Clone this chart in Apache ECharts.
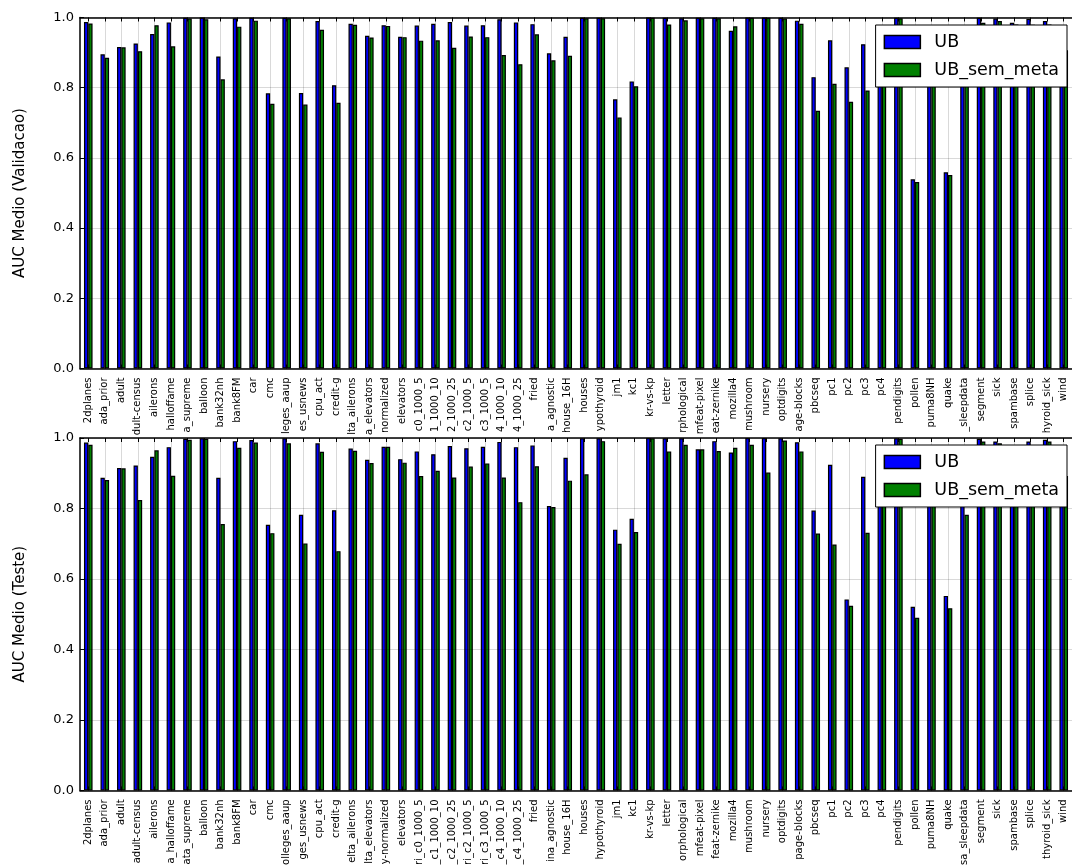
<!DOCTYPE html>
<html>
<head>
<meta charset="utf-8">
<script src="https://cdn.jsdelivr.net/npm/echarts@6/dist/echarts.min.js"></script>
<style>
  html, body { margin: 0; padding: 0; background: #fff; }
  #chart { width: 1072px; height: 868px; }
</style>
</head>
<body>
<div id="chart"></div>
<script>
// Datasets on the x axis (same order in both panels)
const datasets = ['2dplanes','ada_prior','adult','adult-census','ailerons','analcatdata_halloffame',
  'analcatdata_supreme','balloon','bank32nh','bank8FM','car','cmc','colleges_aaup','colleges_usnews',
  'cpu_act','credit-g','delta_ailerons','delta_elevators','electricity-normalized','elevators',
  'fri_c0_1000_5','fri_c1_1000_10','fri_c2_1000_25','fri_c2_1000_5','fri_c3_1000_5','fri_c4_1000_10',
  'fri_c4_1000_25','fried','gina_agnostic','house_16H','houses','hypothyroid','jm1','kc1','kr-vs-kp',
  'letter','mfeat-morphological','mfeat-pixel','mfeat-zernike','mozilla4','mushroom','nursery',
  'optdigits','page-blocks','pbcseq','pc1','pc2','pc3','pc4','pendigits','pollen','puma8NH','quake',
  'rmftsa_sleepdata','segment','sick','spambase','splice','thyroid_sick','wind'];

const seriesNames = ['UB', 'UB_sem_meta'];

// Mean AUC on the validation folds
const validUB = [0.987, 0.895, 0.916, 0.926, 0.953, 0.986, 0.999, 1.000, 0.889, 0.998,
  0.999, 0.784, 0.999, 0.785, 0.990, 0.807, 0.982, 0.948, 0.978, 0.945,
  0.977, 0.982, 0.987, 0.977, 0.978, 0.995, 0.986, 0.981, 0.898, 0.945,
  0.999, 0.999, 0.767, 0.818, 1.000, 0.999, 0.998, 0.999, 0.999, 0.962,
  1.000, 1.000, 0.999, 0.991, 0.830, 0.935, 0.858, 0.924, 0.940, 0.999,
  0.539, 0.900, 0.559, 0.960, 0.999, 0.997, 0.985, 0.996, 0.990, 0.930];
const validSemMeta = [0.983, 0.885, 0.915, 0.904, 0.978, 0.918, 0.997, 0.995, 0.824, 0.974,
  0.991, 0.754, 0.998, 0.752, 0.965, 0.757, 0.979, 0.943, 0.976, 0.944,
  0.934, 0.935, 0.914, 0.946, 0.944, 0.893, 0.867, 0.952, 0.878, 0.891,
  0.998, 0.998, 0.715, 0.804, 0.999, 0.980, 0.992, 0.998, 0.998, 0.975,
  0.999, 0.999, 0.997, 0.982, 0.734, 0.811, 0.760, 0.792, 0.900, 0.998,
  0.531, 0.890, 0.551, 0.940, 0.985, 0.990, 0.980, 0.979, 0.980, 0.907];

// Mean AUC on the test set
const testUB = [0.987, 0.887, 0.915, 0.922, 0.947, 0.974, 0.998, 0.999, 0.887, 0.991,
  0.994, 0.754, 0.999, 0.782, 0.985, 0.795, 0.970, 0.938, 0.975, 0.940,
  0.962, 0.954, 0.977, 0.971, 0.975, 0.989, 0.974, 0.979, 0.807, 0.944,
  0.999, 0.999, 0.740, 0.771, 1.000, 0.999, 0.999, 0.968, 0.991, 0.959,
  1.000, 1.000, 0.999, 0.988, 0.794, 0.924, 0.542, 0.890, 0.930, 0.999,
  0.521, 0.890, 0.552, 0.880, 0.998, 0.990, 0.980, 0.990, 0.995, 0.910];
const testSemMeta = [0.981, 0.881, 0.914, 0.824, 0.965, 0.893, 0.995, 0.998, 0.756, 0.972,
  0.987, 0.730, 0.985, 0.701, 0.961, 0.679, 0.964, 0.929, 0.975, 0.930,
  0.892, 0.907, 0.888, 0.919, 0.928, 0.888, 0.818, 0.920, 0.804, 0.879,
  0.897, 0.991, 0.700, 0.733, 0.999, 0.962, 0.981, 0.968, 0.963, 0.972,
  0.981, 0.902, 0.993, 0.962, 0.729, 0.698, 0.524, 0.731, 0.870, 0.998,
  0.490, 0.880, 0.517, 0.782, 0.990, 0.985, 0.975, 0.980, 0.990, 0.892];

const FONT = '"DejaVu Sans", sans-serif';
const BLUE = '#0000ff';
const GREEN = '#008000';
const GRID_LINE = 'rgba(0,0,0,0.15)';

// Rotated tick labels hang below the axis; keep only the tail that fits the room available
const measureCtx = document.createElement('canvas').getContext('2d');
measureCtx.font = '10px ' + FONT;
function tailFit(name, room) {
  let s = name;
  while (s.length > 1 && measureCtx.measureText(s).width > room) s = s.slice(1);
  return s;
}

const panels = [
  { top: 17.5, height: 351, yName: 'AUC Medio (Validacao)', ub: validUB, sem: validSemMeta, room: 58, legendTop: 25 },
  { top: 438, height: 352.5, yName: 'AUC Medio (Teste)', ub: testUB, sem: testSemMeta, room: 66, legendTop: 445 }
];

const grid = [], xAxis = [], yAxis = [], series = [], legend = [];

panels.forEach((p, i) => {
  grid.push({ left: 80, top: p.top, width: 994, height: p.height, containLabel: false });

  // bottom category axis with labels
  xAxis.push({
    type: 'category', gridIndex: i, data: datasets, boundaryGap: true, z: 3,
    axisLine: { show: true, lineStyle: { color: '#000', width: 1.5 } },
    axisTick: { show: true, inside: true, alignWithLabel: true, length: 4, lineStyle: { color: '#000', width: 1 } },
    axisLabel: {
      interval: 0, rotate: 90, margin: 9, fontSize: 10, fontFamily: FONT, color: '#000',
      formatter: (v) => tailFit(v, p.room)
    },
    splitLine: { show: true, alignWithLabel: true, interval: 0, lineStyle: { color: GRID_LINE, width: 1 } }
  });
  // top spine with inward ticks
  xAxis.push({
    type: 'category', gridIndex: i, data: datasets, position: 'top', boundaryGap: true, z: 3,
    axisLine: { show: true, lineStyle: { color: '#000', width: 1.5 } },
    axisTick: { show: true, inside: true, alignWithLabel: true, length: 4, interval: 0, lineStyle: { color: '#000', width: 1 } },
    axisLabel: { show: false },
    splitLine: { show: false }
  });

  yAxis.push({
    type: 'value', gridIndex: i, min: 0, max: 1, interval: 0.2, z: 3,
    name: p.yName, nameLocation: 'middle', nameGap: 52,
    nameTextStyle: { fontSize: 15, fontFamily: FONT, color: '#000' },
    axisLine: { show: true, lineStyle: { color: '#000', width: 1.5 } },
    axisTick: { show: true, inside: true, length: 4, lineStyle: { color: '#000', width: 1 } },
    axisLabel: { fontSize: 13, fontFamily: FONT, color: '#000', margin: 6, formatter: (v) => v.toFixed(1) },
    splitLine: { show: true, lineStyle: { color: GRID_LINE, width: 1 } }
  });

  [[seriesNames[0], p.ub, BLUE], [seriesNames[1], p.sem, GREEN]].forEach(([name, data, color]) => {
    series.push({
      type: 'bar', name, data,
      xAxisIndex: i * 2, yAxisIndex: i,
      barWidth: '26%', barGap: '0%',
      itemStyle: { color, borderColor: '#000', borderWidth: 1.2 },
      emphasis: { disabled: true }
    });
  });

  legend.push({
    data: seriesNames, orient: 'vertical', right: 5, top: p.legendTop,
    backgroundColor: '#fff', borderColor: '#000', borderWidth: 1, borderRadius: 0,
    padding: [8, 8, 8, 8], itemWidth: 36, itemHeight: 13, itemGap: 10, icon: 'rect',
    selectedMode: false, z: 10,
    itemStyle: { borderColor: '#000', borderWidth: 1.5 },
    textStyle: { fontSize: 17.5, fontFamily: FONT, color: '#000', lineHeight: 16, padding: [0, 0, 0, 9] }
  });
});

const chart = echarts.init(document.getElementById('chart'), null, { renderer: 'canvas' });
chart.setOption({
  animation: false,
  backgroundColor: '#fff',
  textStyle: { fontFamily: FONT },
  grid, xAxis, yAxis, series, legend
});
</script>
</body>
</html>
